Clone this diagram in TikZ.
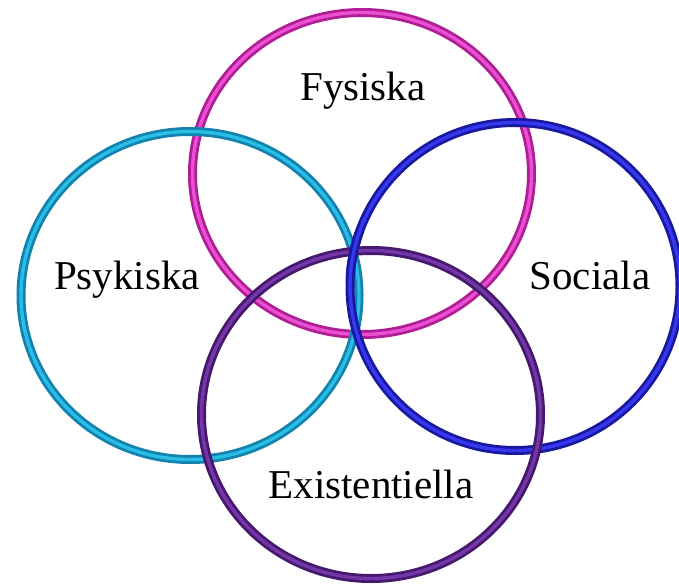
\documentclass[tikz,border=0pt]{standalone}
\usepackage{fontspec}
\setmainfont{Liberation Serif}
\usepackage{tikz}
\definecolor{fysdark}{RGB}{176,30,150}
\definecolor{fyslight}{RGB}{236,80,210}
\definecolor{psydark}{RGB}{20,130,175}
\definecolor{psylight}{RGB}{40,190,230}
\definecolor{socdark}{RGB}{25,25,160}
\definecolor{soclight}{RGB}{55,55,240}
\definecolor{exidark}{RGB}{70,25,110}
\definecolor{exilight}{RGB}{115,55,170}
\tikzset{
  ring/.style ={line width=2.8pt, double distance=3.4pt},
  fysring/.style ={ring, draw=fysdark, double=fyslight},
  psyring/.style ={ring, draw=psydark, double=psylight},
  socring/.style ={ring, draw=socdark, double=soclight},
  exiring/.style ={ring, draw=exidark, double=exilight},
  lab/.style ={font=\fontsize{41}{48}\selectfont, inner sep=0pt, anchor=base},
}
\begin{document}
\begin{tikzpicture}[x=1pt,y=-1pt]
  \useasboundingbox (0,0) rectangle (679,584);
  \clip (0,0) rectangle (679,584);
  % rings, back to front
  \draw[fysring] (362,173.5) ellipse [x radius=169.5, y radius=161];
  \draw[psyring] (190,295.5) ellipse [x radius=169, y radius=164];
  \draw[socring] (515,286.5) ellipse [x radius=165, y radius=164];
  \draw[exiring] (371,414.5) ellipse [x radius=169.5, y radius=164];
  % blue passes over purple at the top crossing
  \begin{scope}
    \clip (335,232) rectangle (366,276);
    \draw[socring] (515,286.5) ellipse [x radius=165, y radius=164];
  \end{scope}
  % labels
  \node[lab] (fysiska) at (363,100) {Fysiska};
  \node[lab] (psykiska) at (127,289) {Psykiska};
  \node[lab] (sociala) at (590,289) {Sociala};
  \node[lab] (existentiella) at (371,498) {Existentiella};
\end{tikzpicture}
\end{document}
